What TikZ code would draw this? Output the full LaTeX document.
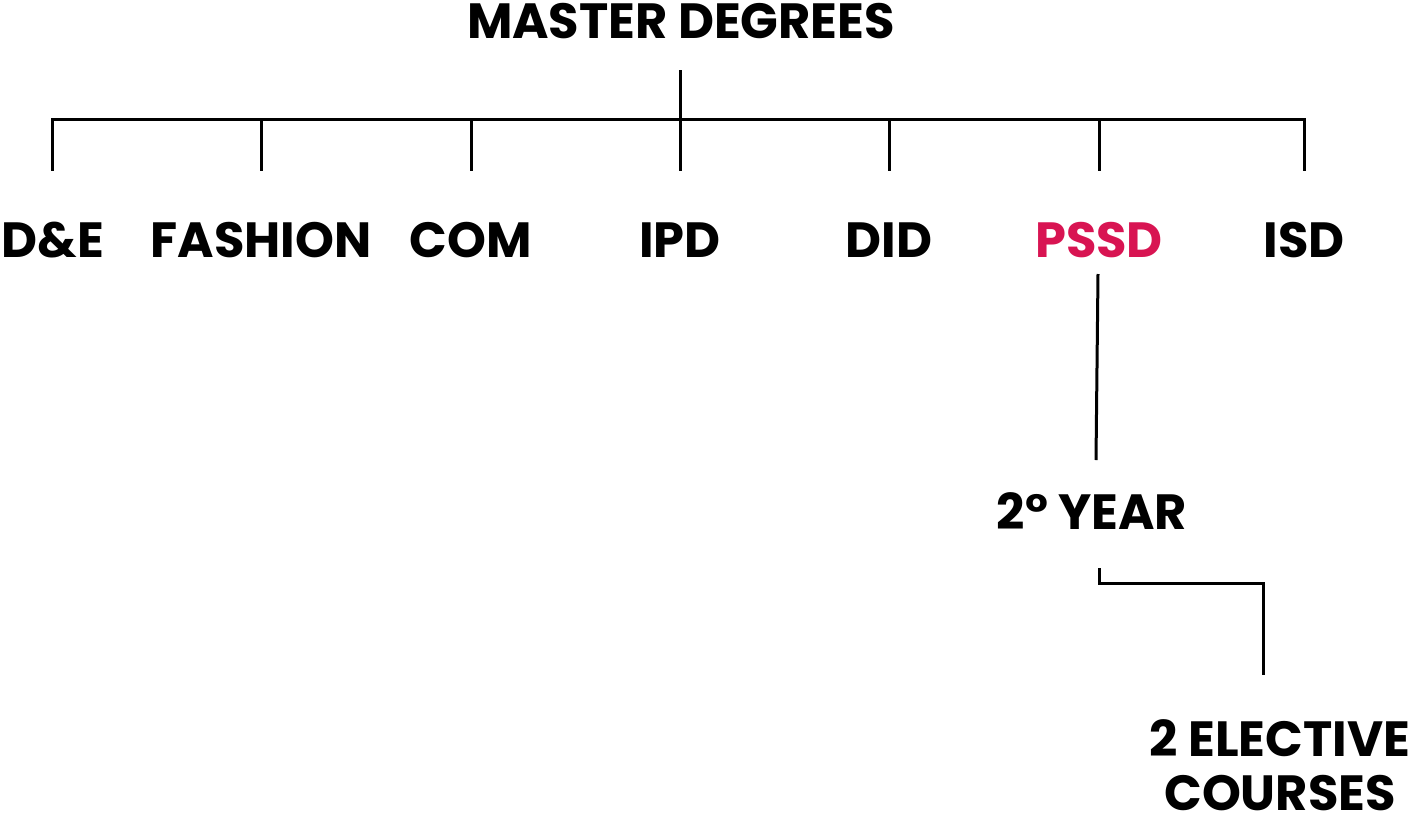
\documentclass[tikz,border=0pt]{standalone}
\usepackage{fontspec}
\setmainfont{Poppins}[UprightFont=* SemiBold,BoldFont=* Bold]
\definecolor{pssdred}{RGB}{216,20,82}
\begin{document}
\begin{tikzpicture}[x=1pt,y=-1pt,
  lbl/.style={font=\fontsize{49.5}{54}\selectfont\bfseries,inner sep=0pt,anchor=base},
  ln/.style={line width=3pt,black}]
\useasboundingbox (0,0) rectangle (1419,817);
% texts
\node[lbl] (master) at (681,38) {MASTER DEGREES};
\node[lbl] (de) at (53,257) {D\&E};
\node[lbl] (fashion) at (261,257) {FASHION};
\node[lbl] (com) at (471,257) {COM};
\node[lbl] (ipd) at (680,257) {IPD};
\node[lbl] (did) at (889,257) {DID};
\node[lbl,text=pssdred] (pssd) at (1099,257) {PSSD};
\node[lbl] (isd) at (1304,257) {ISD};
\node[lbl] (year) at (1092,529) {2° YEAR};
\node[lbl,align=center,text depth=0pt] (elective) at (1280,810) {2 ELECTIVE\\COURSES};
% junctions
\coordinate (mtop) at (680,70);
\coordinate (mbar) at (680,119);
\coordinate (bl) at (52,119);
\coordinate (br) at (1304,119);
\foreach \n/\x in {de/52,fashion/261,com/471,ipd/680,did/889,pssd/1099,isd/1304}{
  \coordinate (t\n) at (\x,119);
  \coordinate (e\n) at (\x,171);
}
\coordinate (ptop) at (1098,274);
\coordinate (pbot) at (1096,460);
\coordinate (ytop) at (1099,568);
\coordinate (ycor) at (1099,583);
\coordinate (ecor) at (1263,583);
\coordinate (ebot) at (1263,675);
% connectors
\draw[ln] (mtop) -- (mbar);
\draw[ln,line cap=rect] (bl) -- (br);
\foreach \n in {de,fashion,com,ipd,did,pssd,isd}{
  \draw[ln] (t\n) -- (e\n);
}
\draw[ln] (ptop) -- (pbot);
\draw[ln] (ytop) -- (ycor) -- (ecor) -- (ebot);
\end{tikzpicture}
\end{document}
